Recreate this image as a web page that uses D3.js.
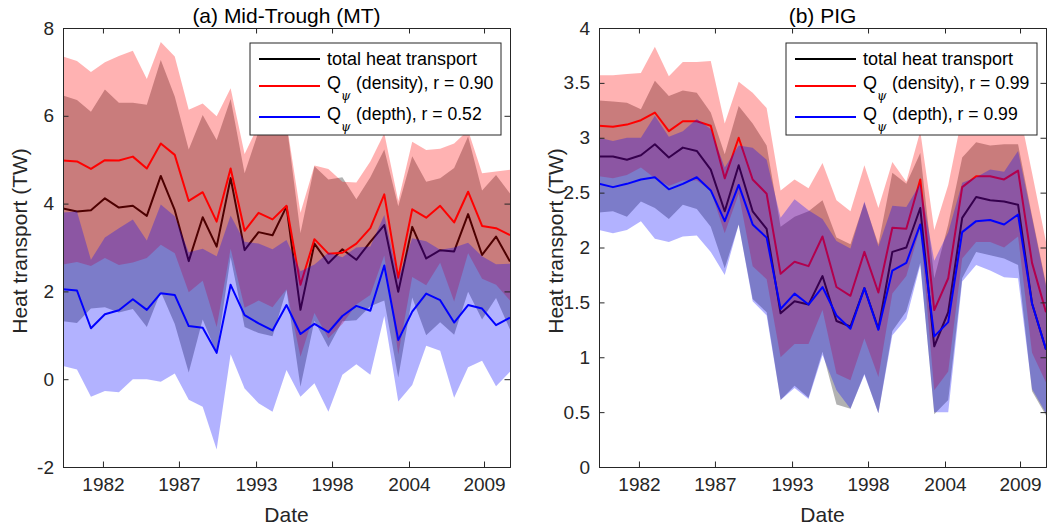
<!DOCTYPE html>
<html>
<head>
<meta charset="utf-8">
<script src="https://cdn.jsdelivr.net/npm/d3@7"></script>
<style>
  body { margin: 0; background: #fff; }
  svg { display: block; font-family: "Liberation Sans", Arial, Helvetica, sans-serif; }
</style>
</head>
<body>
<svg id="chart" width="1057" height="528"></svg>
<script>
// years 1979..2011, one value per year
const years = d3.range(1979, 2012);
const tickYears = [1981.86, 1987.30, 1992.82, 1998.26, 2003.77, 2009.14];
const tickLabels = ["1982", "1987", "1993", "1998", "2004", "2009"];

// (a) Mid-Trough
const mtTotal = [3.89,3.82,3.85,4.12,3.91,3.95,3.72,4.63,3.85,2.69,3.69,3.02,4.58,2.94,3.35,3.28,3.93,1.58,3.09,2.64,2.96,2.72,3.13,3.51,1.99,3.47,2.75,2.94,2.91,3.76,2.83,3.25,2.68];
const mtTotalSpread = [2.57,2.54,2.24,2.48,2.39,2.35,2.53,2.64,2.59,2.54,2.33,2.43,1.80,1.75,2.30,2.30,1.90,1.75,1.76,1.91,1.64,1.38,1.47,1.72,1.95,1.61,1.75,1.64,1.90,1.77,1.47,1.40,1.55];
const mtDensity = [4.98,4.96,4.79,4.99,4.98,5.07,4.80,5.37,5.11,4.06,4.26,3.59,4.80,3.38,3.79,3.64,3.95,2.15,3.19,2.86,2.88,3.09,3.44,4.21,2.31,3.87,3.68,3.95,3.57,4.27,3.49,3.44,3.28];
const mtDensitySpread = [2.37,2.29,2.21,2.23,2.38,2.41,2.04,2.31,2.24,2.08,2.02,2.40,1.83,1.75,2.00,2.00,1.90,1.64,1.68,1.93,1.62,1.39,1.52,1.39,1.75,1.54,1.54,1.30,1.80,1.40,1.20,1.29,1.49];
const mtDepth = [2.05,2.02,1.16,1.48,1.57,1.82,1.58,1.96,1.92,1.21,1.17,0.60,2.15,1.46,1.27,1.11,1.69,1.03,1.26,1.07,1.44,1.67,1.56,2.59,0.89,1.54,1.95,1.80,1.29,1.69,1.61,1.23,1.40];
const mtDepthSpread = [1.75,1.80,1.56,1.75,1.87,1.82,1.58,2.02,1.79,1.68,1.80,2.20,1.58,1.67,1.82,1.85,1.48,1.43,1.35,1.81,1.34,1.33,1.46,1.15,1.40,1.67,1.19,1.15,1.71,1.42,1.19,1.39,1.23];

// (b) PIG
const pigTotal = [2.83,2.83,2.80,2.84,2.94,2.82,2.91,2.88,2.71,2.33,2.75,2.33,2.17,1.40,1.51,1.48,1.74,1.33,1.28,1.63,1.26,1.96,2.00,2.36,1.10,1.41,2.27,2.46,2.43,2.42,2.39,1.49,1.07];
const pigTotalSpread = [0.51,0.50,0.52,0.42,0.58,0.56,0.52,0.53,0.52,0.52,0.54,0.80,0.76,0.79,0.77,0.85,0.69,0.76,0.75,0.78,0.77,0.72,0.58,0.50,0.62,0.80,0.55,0.50,0.50,0.52,0.55,0.80,0.60];
const pigDensity = [3.11,3.10,3.12,3.16,3.23,3.06,3.15,3.15,3.11,2.63,3.00,2.62,2.49,1.76,1.87,1.83,2.10,1.64,1.56,1.96,1.59,2.18,2.17,2.62,1.43,1.72,2.55,2.65,2.65,2.62,2.70,1.86,1.41];
const pigDensitySpread = [0.46,0.47,0.46,0.43,0.60,0.50,0.54,0.54,0.59,0.50,0.51,0.79,0.78,0.76,0.75,0.71,0.67,0.79,0.77,0.79,0.77,0.60,0.43,0.44,0.73,0.85,0.65,0.60,0.60,0.62,0.60,0.82,0.64];
const pigDepth = [2.58,2.55,2.58,2.62,2.64,2.53,2.58,2.64,2.52,2.24,2.57,2.21,2.09,1.44,1.58,1.48,1.64,1.38,1.26,1.63,1.25,1.79,1.86,2.21,1.19,1.32,2.14,2.24,2.25,2.21,2.30,1.49,1.07];
const pigDepthSpread = [0.42,0.42,0.42,0.38,0.56,0.48,0.48,0.53,0.56,0.49,0.36,0.70,0.71,0.83,0.86,0.86,0.62,0.68,0.73,0.79,0.76,0.59,0.51,0.37,0.69,0.82,0.45,0.40,0.46,0.48,0.58,0.78,0.58];

const axisColor = "#262626";
const svg = d3.select("#chart");

function panel({ left, title, yDomain, yTicks, series, legend }) {
  const top = 28, bottom = 467, width = 447;
  const x = d3.scaleLinear().domain([1979, 2011]).range([left, left + width]);
  const y = d3.scaleLinear().domain(yDomain).range([bottom, top]);
  const g = svg.append("g");
  const clipId = "clip" + left;

  g.append("clipPath").attr("id", clipId)
    .append("rect").attr("x", left).attr("y", top).attr("width", width).attr("height", bottom - top);

  const plot = g.append("g").attr("clip-path", `url(#${clipId})`);
  const area = d3.area()
    .x((d, i) => x(years[i]))
    .y0(d => y(d[0] - d[1]))
    .y1(d => y(d[0] + d[1]));
  const line = d3.line().x((d, i) => x(years[i])).y(d => y(d));

  // band then line for each series, so later bands tint earlier lines
  series.forEach(s => {
    plot.append("path")
      .datum(s.mean.map((m, i) => [m, s.spread[i]]))
      .attr("d", area)
      .attr("fill", s.color)
      .attr("fill-opacity", 0.3);
    plot.append("path")
      .datum(s.mean)
      .attr("d", line)
      .attr("fill", "none")
      .attr("stroke", s.color)
      .attr("stroke-width", 2)
      .attr("stroke-linejoin", "round");
  });

  // box and inward ticks on all sides
  const tl = 5.5;
  g.append("g").attr("transform", `translate(0,${bottom})`)
    .call(d3.axisBottom(x).tickValues(tickYears).tickSize(-tl).tickPadding(11).tickFormat((d, i) => tickLabels[i]));
  g.append("g").attr("transform", `translate(0,${top})`)
    .call(d3.axisTop(x).tickValues(tickYears).tickSize(-tl).tickFormat(""));
  g.append("g").attr("transform", `translate(${left},0)`)
    .call(d3.axisLeft(y).tickValues(yTicks).tickSize(-tl).tickPadding(9).tickFormat(d => String(d)));
  g.append("g").attr("transform", `translate(${left + width},0)`)
    .call(d3.axisRight(y).tickValues(yTicks).tickSize(-tl).tickFormat(""));
  g.selectAll(".domain").attr("stroke", axisColor).attr("stroke-width", 1);
  g.selectAll(".tick line").attr("stroke", axisColor).attr("stroke-width", 1);
  g.selectAll(".tick text").attr("fill", axisColor).style("font-size", "19px")
    .style("font-family", "'Liberation Sans', Arial, sans-serif");

  g.append("text")
    .attr("x", left + width / 2).attr("y", 23)
    .attr("text-anchor", "middle").attr("fill", "#000")
    .style("font-size", "21px").text(title);
  g.append("text")
    .attr("x", left + width / 2).attr("y", 522)
    .attr("text-anchor", "middle").attr("fill", axisColor)
    .style("font-size", "21px").text("Date");
  g.append("text")
    .attr("transform", `translate(${left - 36},241) rotate(-90)`)
    .attr("text-anchor", "middle").attr("fill", axisColor)
    .style("font-size", "21px").text("Heat transport (TW)");

  // legend
  const lx = left + 187, ly = 43, lw = 251, lh = 92;
  const lg = g.append("g");
  lg.append("rect").attr("x", lx).attr("y", ly).attr("width", lw).attr("height", lh)
    .attr("fill", "#fff").attr("stroke", axisColor).attr("stroke-width", 1);
  const rows = [16, 43, 74];
  legend.forEach((item, i) => {
    const ry = ly + rows[i];
    lg.append("line").attr("x1", lx + 9).attr("x2", lx + 70).attr("y1", ry).attr("y2", ry)
      .attr("stroke", item.color).attr("stroke-width", 2);
    if (item.psi) {
      lg.append("text").attr("x", lx + 77).attr("y", ry + 3).style("font-size", "18px").text("Q");
      lg.append("text").attr("x", lx + 91).attr("y", ry + 14).style("font-size", "12px")
        .style("font-style", "italic").attr("font-family", "'DejaVu Serif', serif").text("ψ");
      lg.append("text").attr("x", lx + 106).attr("y", ry + 3).style("font-size", "17.6px").text(item.label);
    } else {
      lg.append("text").attr("x", lx + 77).attr("y", ry + 6).style("font-size", "18px").text(item.label);
    }
  });
}

panel({
  left: 63,
  title: "(a) Mid-Trough (MT)",
  yDomain: [-2, 8],
  yTicks: [-2, 0, 2, 4, 6, 8],
  series: [
    { mean: mtTotal, spread: mtTotalSpread, color: "#000000" },
    { mean: mtDensity, spread: mtDensitySpread, color: "#ff0000" },
    { mean: mtDepth, spread: mtDepthSpread, color: "#0000ff" }
  ],
  legend: [
    { color: "#000", label: "total heat transport" },
    { color: "#ff0000", label: "(density), r = 0.90", psi: true },
    { color: "#0000ff", label: "(depth), r = 0.52", psi: true }
  ]
});

panel({
  left: 599,
  title: "(b) PIG",
  yDomain: [0, 4],
  yTicks: [0, 0.5, 1, 1.5, 2, 2.5, 3, 3.5, 4],
  series: [
    { mean: pigTotal, spread: pigTotalSpread, color: "#000000" },
    { mean: pigDensity, spread: pigDensitySpread, color: "#ff0000" },
    { mean: pigDepth, spread: pigDepthSpread, color: "#0000ff" }
  ],
  legend: [
    { color: "#000", label: "total heat transport" },
    { color: "#ff0000", label: "(density), r = 0.99", psi: true },
    { color: "#0000ff", label: "(depth), r = 0.99", psi: true }
  ]
});
</script>
</body>
</html>
